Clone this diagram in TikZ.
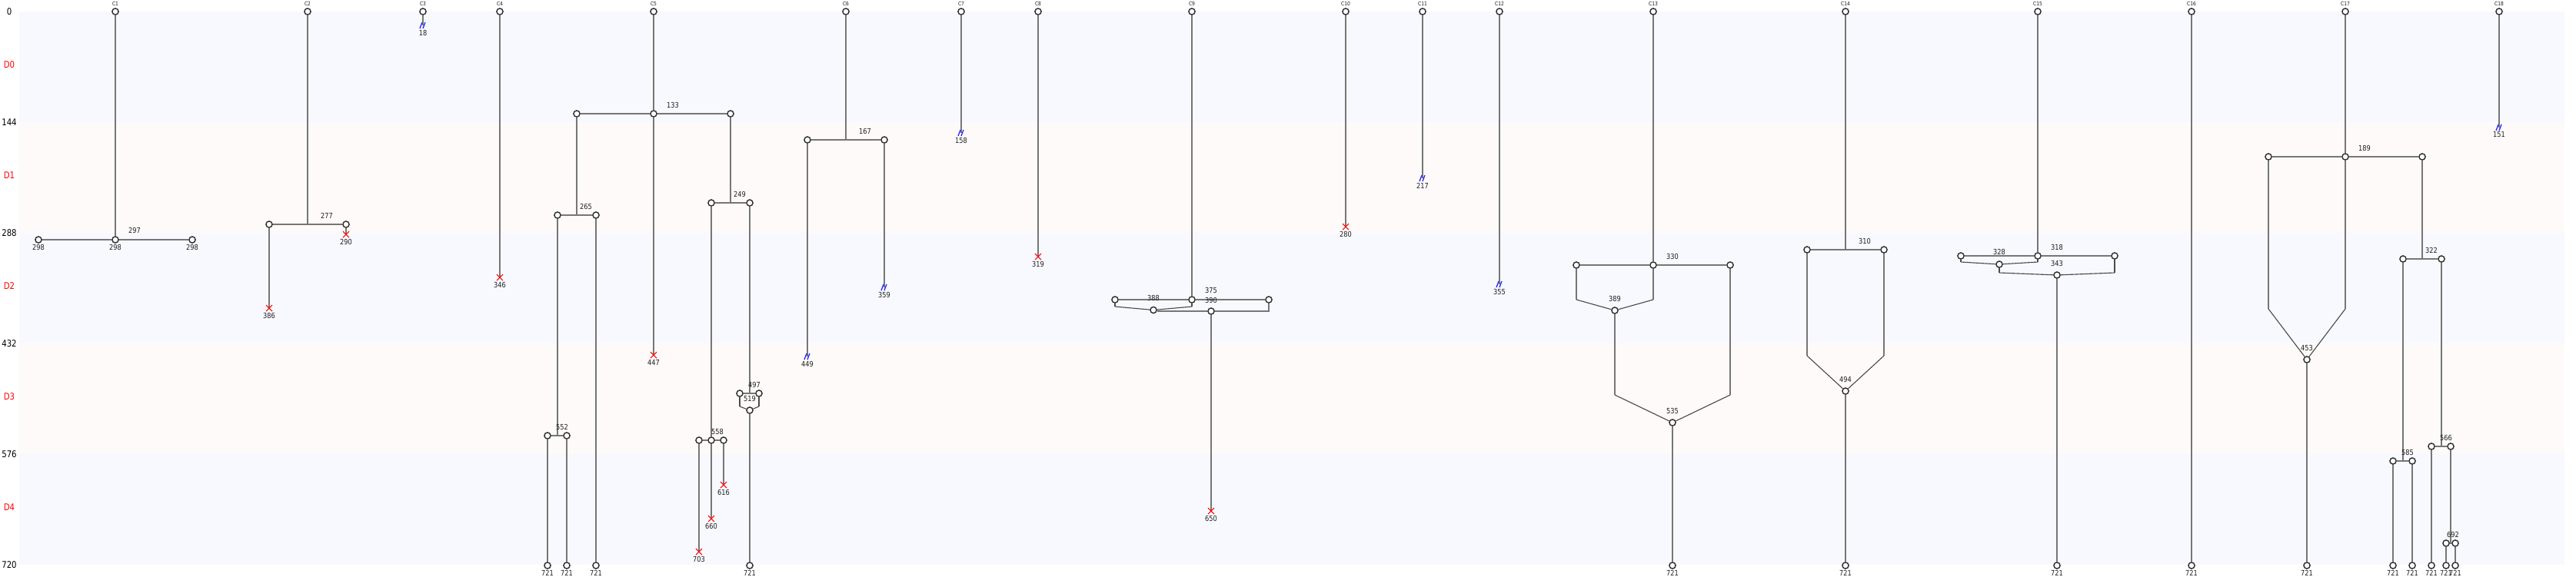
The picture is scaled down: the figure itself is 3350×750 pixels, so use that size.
\documentclass[tikz,border=0pt]{standalone}
\usepackage{fontspec}
\setmainfont{DejaVu Sans}
\newfontfamily\lf[FakeStretch=0.85]{DejaVu Sans}
\definecolor{bandA}{RGB}{247,249,254}
\definecolor{bandB}{RGB}{254,250,250}
\definecolor{edgegray}{RGB}{118,118,118}
\definecolor{mrggray}{RGB}{75,75,75}
\definecolor{circgray}{RGB}{45,45,45}
\definecolor{labcol}{RGB}{30,30,30}
\definecolor{xred}{RGB}{255,0,0}
\definecolor{brkblue}{RGB}{30,30,255}
\tikzset{
  edge/.style={draw=edgegray, line width=0.55pt},
  mrg/.style={draw=mrggray, line width=0.32pt},
  cn/.style={circle, draw=circgray, fill=white, line width=0.4pt, inner sep=0pt, minimum size=0.082cm},
  lab/.style={font=\lf\fontsize{2.75pt}{3pt}\selectfont, text=labcol, inner sep=0pt},
  clab/.style={font=\lf\fontsize{2pt}{2.4pt}\selectfont, text=labcol, inner sep=0pt},
  axlab/.style={font=\lf\fontsize{3.4pt}{4pt}\selectfont, text=black, inner sep=0pt},
  dlab/.style={font=\lf\fontsize{3.4pt}{4pt}\selectfont, text=xred, inner sep=0pt},
  xline/.style={draw=xred, line width=0.3pt},
  bline/.style={draw=brkblue, line width=0.35pt}
}
\newcount\lbc
\newcommand\lb[3]{\global\advance\lbc by 1 \node[lab] (lab\the\lbc) at (#1,#2) {#3};}
\newcommand\mkc[3]{\node[cn] (#1) at (#2,#3) {};}
\newcommand\xmk[1]{\draw[xline] ([shift={(-4,-4)}]#1) -- ([shift={(4,4)}]#1) ([shift={(-4,4)}]#1) -- ([shift={(4,-4)}]#1);}
\newcommand\bmk[1]{\draw[bline] ([shift={(-4,4)}]#1) -- ([shift={(-1,-4)}]#1) ([shift={(0,4)}]#1) -- ([shift={(3,-4)}]#1);}
\begin{document}
\begin{tikzpicture}[x=0.01cm,y=-0.01cm]
\useasboundingbox (0,0) rectangle (3350,750);
\fill[white] (0,0) rectangle (3350,750);
\fill[bandA] (25,15) rectangle (3335,159);
\fill[bandB] (25,159) rectangle (3335,303);
\fill[bandA] (25,303) rectangle (3335,447);
\fill[bandB] (25,447) rectangle (3335,591);
\fill[bandA] (25,591) rectangle (3335,735);
% axis
\node[axlab] (a0) at (12,15) {0};
\node[axlab] (a144) at (12,159) {144};
\node[axlab] (a288) at (12,303) {288};
\node[axlab] (a432) at (12,447) {432};
\node[axlab] (a576) at (12,591) {576};
\node[axlab] (a720) at (12,735) {720};
\node[dlab] (d0) at (12,84) {D0};
\node[dlab] (d1) at (12,228) {D1};
\node[dlab] (d2) at (12,372) {D2};
\node[dlab] (d3) at (12,516) {D3};
\node[dlab] (d4) at (12,660) {D4};
% column tops
\foreach \i/\x in {1/150,2/400,3/550,4/650,5/850,6/1100,7/1250,8/1350,9/1550,10/1750,11/1850,12/1950,13/2150,14/2400,15/2650,16/2850,17/3050,18/3250}{
  \node[cn] (c\i) at (\x,15) {};
  \node[clab] (cl\i) at (\x,4.5) {C\i};
}
% ---------- C1
\mkc{m50}{50}{312}\mkc{m150}{150}{312}\mkc{m250}{250}{312}
\draw[edge] (c1)--(m150);
\draw[edge] (m50)--(m150); \draw[edge] (m150)--(m250);
\xmk{m50}\xmk{m150}\xmk{m250}
\lb{50}{322}{298}\lb{150}{322}{298}\lb{250}{322}{298}\lb{175}{300}{297}
% ---------- C2
\coordinate (j277) at (400,292);
\mkc{n350}{350}{292}\mkc{n450}{450}{292}
\coordinate (x290) at (450,305); \coordinate (x386) at (350,401);
\draw[edge] (c2)--(j277); \draw[edge] (n350)--(n450);
\draw[edge] (n450)--(x290); \draw[edge] (n350)--(x386);
\xmk{x290}\xmk{x386}
\lb{425}{281}{277}\lb{450}{314.5}{290}\lb{350}{410.5}{386}
% ---------- C3
\coordinate (b18) at (550,33); \draw[edge] (c3)--(b18); \bmk{b18}
\lb{550}{42.5}{18}
% ---------- C4
\coordinate (x346) at (650,361); \draw[edge] (c4)--(x346); \xmk{x346}
\lb{650}{370.5}{346}
% ---------- C5
\mkc{n850}{850}{148}\mkc{n750}{750}{148}\mkc{n950}{950}{148}
\draw[edge] (c5)--(n850); \draw[edge] (n750)--(n850); \draw[edge] (n850)--(n950);
\lb{875}{137}{133}
\coordinate (x447) at (850,462); \draw[edge] (n850)--(x447); \xmk{x447}
\lb{850}{471.5}{447}
\coordinate (j265) at (750,280); \mkc{n725}{725}{280}\mkc{n775}{775}{280}
\draw[edge] (n750)--(j265); \draw[edge] (n725)--(n775);
\lb{762}{269}{265}
\coordinate (j552) at (725,567); \mkc{n712}{712}{567}\mkc{n737}{737}{567}
\draw[edge] (n725)--(j552); \draw[edge] (n712)--(n737);
\lb{731}{556}{552}
\mkc{e712}{712}{736}\mkc{e737}{737}{736}\mkc{e775}{775}{736}
\draw[edge] (n712)--(e712); \draw[edge] (n737)--(e737); \draw[edge] (n775)--(e775);
\lb{712}{745.5}{721}\lb{737}{745.5}{721}\lb{775}{745.5}{721}
\coordinate (j249) at (950,264); \mkc{n925}{925}{264}\mkc{n975}{975}{264}
\draw[edge] (n950)--(j249); \draw[edge] (n925)--(n975);
\lb{962}{253}{249}
\mkc{n925b}{925}{573}\mkc{n909}{909}{573}\mkc{n941}{941}{573}
\draw[edge] (n925)--(n925b); \draw[edge] (n909)--(n925b); \draw[edge] (n925b)--(n941);
\lb{933}{562}{558}
\coordinate (x703) at (909,718); \coordinate (x660) at (925,675); \coordinate (x616) at (941,631);
\draw[edge] (n909)--(x703); \draw[edge] (n925b)--(x660); \draw[edge] (n941)--(x616);
\xmk{x703}\xmk{x660}\xmk{x616}
\lb{909}{727.5}{703}\lb{925}{684.5}{660}\lb{941}{640.5}{616}
\coordinate (j497) at (975,512); \mkc{n962}{962}{512}\mkc{n987}{987}{512}
\draw[edge] (n975)--(j497); \draw[edge] (n962)--(n987);
\lb{981}{501}{497}
\coordinate (k962) at (962,529); \coordinate (k987) at (987,529);
\mkc{n975b}{975}{534}
\draw[mrg] (n962)--(k962); \draw[mrg] (n987)--(k987);
\draw[mrg] (k962)--(n975b); \draw[mrg] (k987)--(n975b);
\lb{975}{519}{519}
\mkc{e975}{975}{736} \draw[edge] (n975b)--(e975); \lb{975}{745.5}{721}
% ---------- C6
\coordinate (j167) at (1100,182); \mkc{n1050}{1050}{182}\mkc{n1150}{1150}{182}
\draw[edge] (c6)--(j167); \draw[edge] (n1050)--(n1150);
\lb{1125}{171}{167}
\coordinate (b449) at (1050,464); \coordinate (b359) at (1150,374);
\draw[edge] (n1050)--(b449); \draw[edge] (n1150)--(b359);
\bmk{b449}\bmk{b359}
\lb{1050}{473.5}{449}\lb{1150}{383.5}{359}
% ---------- C7
\coordinate (b158) at (1250,173); \draw[edge] (c7)--(b158); \bmk{b158}
\lb{1250}{182.5}{158}
% ---------- C8
\coordinate (x319) at (1350,334); \draw[edge] (c8)--(x319); \xmk{x319}
\lb{1350}{343.5}{319}
% ---------- C9
\mkc{n1550}{1550}{390}\mkc{n1450}{1450}{390}\mkc{n1650}{1650}{390}
\draw[edge] (c9)--(n1550); \draw[edge] (n1450)--(n1550); \draw[edge] (n1550)--(n1650);
\coordinate (k1450) at (1450,399); \coordinate (k1550) at (1550,399);
\mkc{n1500}{1500}{403.5}
\draw[mrg] (n1450)--(k1450); \draw[mrg] (n1550)--(k1550);
\draw[mrg] (k1450)--(n1500); \draw[mrg] (k1550)--(n1500);
\mkc{n1575}{1575}{405} \coordinate (k1650) at (1650,405);
\draw[edge] (n1500.east |- n1575)--(n1575); \draw[edge] (n1650)--(k1650)--(n1575);
\coordinate (x650) at (1575,665); \draw[edge] (n1575)--(x650); \xmk{x650}
\lb{1575}{378}{375}\lb{1500}{388}{388}\lb{1575}{391}{390}\lb{1575}{674.5}{650}
% ---------- C10
\coordinate (x280) at (1750,295); \draw[edge] (c10)--(x280); \xmk{x280}
\lb{1750}{304.5}{280}
% ---------- C11
\coordinate (b217) at (1850,232); \draw[edge] (c11)--(b217); \bmk{b217}
\lb{1850}{241.5}{217}
% ---------- C12
\coordinate (b355) at (1950,370); \draw[edge] (c12)--(b355); \bmk{b355}
\lb{1950}{379.5}{355}
% ---------- C13
\mkc{n2150}{2150}{345}\mkc{n2050}{2050}{345}\mkc{n2250}{2250}{345}
\draw[edge] (c13)--(n2150); \draw[edge] (n2050)--(n2150); \draw[edge] (n2150)--(n2250);
\lb{2175}{334}{330}
\coordinate (k2050) at (2050,390); \coordinate (k2150) at (2150,390);
\mkc{n2100}{2100}{404}
\draw[edge] (n2050)--(k2050); \draw[edge] (n2150)--(k2150);
\draw[mrg] (k2050)--(n2100); \draw[mrg] (k2150)--(n2100);
\lb{2100}{389}{389}
\coordinate (k2100) at (2100,514); \coordinate (k2250) at (2250,514);
\mkc{n2175}{2175}{550}
\draw[edge] (n2100)--(k2100); \draw[edge] (n2250)--(k2250);
\draw[mrg] (k2100)--(n2175); \draw[mrg] (k2250)--(n2175);
\lb{2175}{535}{535}
\mkc{e2175}{2175}{736} \draw[edge] (n2175)--(e2175); \lb{2175}{745.5}{721}
% ---------- C14
\coordinate (j310) at (2400,325); \mkc{n2350}{2350}{325}\mkc{n2450}{2450}{325}
\draw[edge] (c14)--(j310); \draw[edge] (n2350)--(n2450);
\lb{2425}{314}{310}
\coordinate (k2350) at (2350,463); \coordinate (k2450) at (2450,463);
\mkc{n2400}{2400}{509}
\draw[edge] (n2350)--(k2350); \draw[edge] (n2450)--(k2450);
\draw[mrg] (k2350)--(n2400); \draw[mrg] (k2450)--(n2400);
\lb{2400}{494}{494}
\mkc{e2400}{2400}{736} \draw[edge] (n2400)--(e2400); \lb{2400}{745.5}{721}
% ---------- C15
\mkc{n2650}{2650}{333}\mkc{n2550}{2550}{333}\mkc{n2750}{2750}{333}
\draw[edge] (c15)--(n2650); \draw[edge] (n2550)--(n2650); \draw[edge] (n2650)--(n2750);
\lb{2675}{322}{318}
\coordinate (k2550) at (2550,341); \coordinate (k2650) at (2650,341);
\mkc{n2600}{2600}{344}
\draw[mrg] (n2550)--(k2550); \draw[mrg] (n2650)--(k2650);
\draw[mrg] (k2550)--(n2600); \draw[mrg] (k2650)--(n2600);
\lb{2600}{328}{328}
\coordinate (k2600) at (2600,355); \coordinate (k2750) at (2750,355);
\mkc{n2675}{2675}{358}
\draw[mrg] (n2600)--(k2600); \draw[mrg] (n2750)--(k2750);
\draw[mrg] (k2600)--(n2675); \draw[mrg] (k2750)--(n2675);
\lb{2675}{343}{343}
\mkc{e2675}{2675}{736} \draw[edge] (n2675)--(e2675); \lb{2675}{745.5}{721}
% ---------- C16
\mkc{e2850}{2850}{736} \draw[edge] (c16)--(e2850); \lb{2850}{745.5}{721}
% ---------- C17
\mkc{n3050}{3050}{204}\mkc{n2950}{2950}{204}\mkc{n3150}{3150}{204}
\draw[edge] (c17)--(n3050); \draw[edge] (n2950)--(n3050); \draw[edge] (n3050)--(n3150);
\lb{3075}{193}{189}
\coordinate (k2950) at (2950,402); \coordinate (k3050) at (3050,402);
\mkc{n3000}{3000}{468}
\draw[edge] (n2950)--(k2950); \draw[edge] (n3050)--(k3050);
\draw[mrg] (k2950)--(n3000); \draw[mrg] (k3050)--(n3000);
\lb{3000}{453}{453}
\mkc{e3000}{3000}{736} \draw[edge] (n3000)--(e3000); \lb{3000}{745.5}{721}
\coordinate (j322) at (3150,337); \mkc{n3125}{3125}{337}\mkc{n3175}{3175}{337}
\draw[edge] (n3150)--(j322); \draw[edge] (n3125)--(n3175);
\lb{3162}{326}{322}
\coordinate (j585) at (3125,600); \mkc{n3112}{3112}{600}\mkc{n3137}{3137}{600}
\draw[edge] (n3125)--(j585); \draw[edge] (n3112)--(n3137);
\lb{3131}{589}{585}
\mkc{e3112}{3112}{736}\mkc{e3137}{3137}{736}
\draw[edge] (n3112)--(e3112); \draw[edge] (n3137)--(e3137);
\lb{3112}{745.5}{721}\lb{3137}{745.5}{721}
\coordinate (j566) at (3175,581); \mkc{n3162}{3162}{581}\mkc{n3187}{3187}{581}
\draw[edge] (n3175)--(j566); \draw[edge] (n3162)--(n3187);
\lb{3181}{570}{566}
\mkc{e3162}{3162}{736} \draw[edge] (n3162)--(e3162); \lb{3162}{745.5}{721}
\coordinate (j692) at (3187,707); \mkc{n3181}{3181}{707}\mkc{n3193}{3193}{707}
\draw[edge] (n3187)--(j692); \draw[edge] (n3181)--(n3193);
\lb{3190}{696}{692}
\mkc{e3181}{3181}{736}\mkc{e3193}{3193}{736}
\draw[edge] (n3181)--(e3181); \draw[edge] (n3193)--(e3193);
\lb{3181}{745.5}{721}\lb{3193}{745.5}{721}
% ---------- C18
\coordinate (b151) at (3250,166); \draw[edge] (c18)--(b151); \bmk{b151}
\lb{3250}{175.5}{151}
\end{tikzpicture}
\end{document}
